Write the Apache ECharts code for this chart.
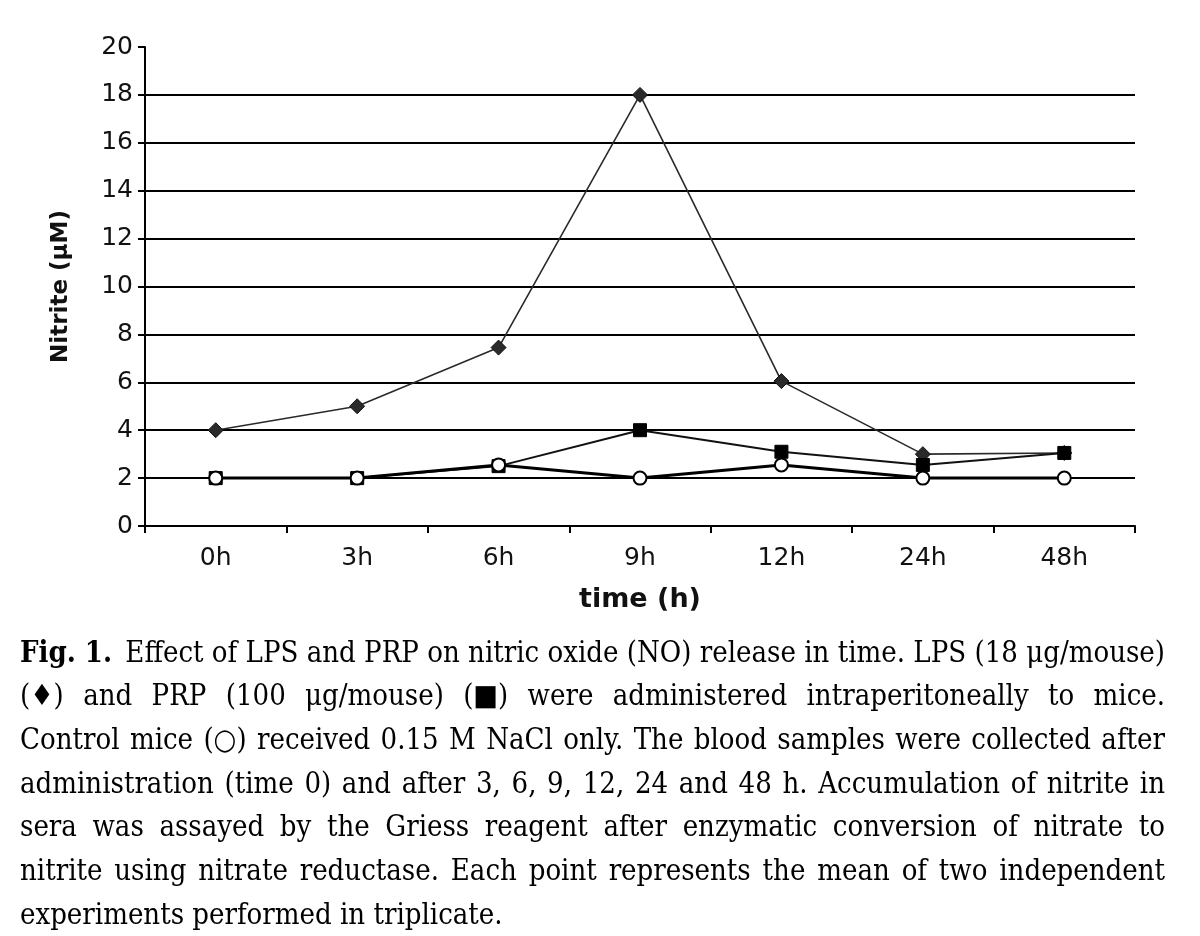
<!DOCTYPE html>
<html>
<head>
<meta charset="utf-8">
<script src="https://cdn.jsdelivr.net/npm/echarts@6/dist/echarts.min.js"></script>
<style>
html,body{margin:0;padding:0;background:#fff;}
#chart{width:1200px;height:936px;}
</style>
</head>
<body>
<div id="chart"></div>
<script>
// ---- data ----
const categories = ['0h', '3h', '6h', '9h', '12h', '24h', '48h'];
const lpsValues = [4, 5, 7.45, 18, 6.05, 3.0, 3.05];
const prpValues = [2, 2, 2.5, 4.0, 3.1, 2.55, 3.05];
const controlValues = [2, 2, 2.55, 2, 2.55, 2, 2];
const yTicks = [0, 2, 4, 6, 8, 10, 12, 14, 16, 18, 20];
const yAxisTitle = 'Nitrite (\u03bcM)';
const xAxisTitle = 'time (h)';
const captionBold = 'Fig. 1.';
const captionLines = [
  'Effect of LPS and PRP on nitric oxide (NO) release in time. LPS (18 \u03bcg/mouse)',
  '(\u2666) and PRP (100 \u03bcg/mouse) (\u25a0) were administered intraperitoneally to mice.',
  'Control mice (\u25cb) received 0.15 M NaCl only. The blood samples were collected after',
  'administration (time 0) and after 3, 6, 9, 12, 24 and 48 h. Accumulation of nitrite in',
  'sera was assayed by the Griess reagent after enzymatic conversion of nitrate to',
  'nitrite using nitrate reductase. Each point represents the mean of two independent',
  'experiments performed in triplicate.'
];

const chart = echarts.init(document.getElementById('chart'));
const axisFont = '"DejaVu Sans", "Liberation Sans", Arial, sans-serif';
const serif = '"DejaVu Serif Condensed", "DejaVu Serif", "Liberation Serif", serif';

// grid line colours: hide the line at the top (20) tick
const gridColors = yTicks.map((v, i) => i === yTicks.length - 1 ? 'rgba(0,0,0,0)' : '#000');

// ---- caption layout (justified text) ----
const capLeft = 20, capRight = 1165, capTop = 654, capPitch = 43.7;
const measureCtx = document.createElement('canvas').getContext('2d');
function measure(t, size, weight) {
  measureCtx.font = (weight || 'normal') + ' ' + size + 'px ' + serif;
  return measureCtx.measureText(t).width;
}
let capSize = 30;
(function fit() {
  const spaceW = measure(' ', 30);
  let maxW = 0;
  captionLines.forEach((ln, i) => {
    let w = measure(ln, 30);
    if (i === 0) w += measure(captionBold, 30, 'bold') + spaceW * 1.6;
    maxW = Math.max(maxW, w);
  });
  capSize = Math.min(31, 30 * (capRight - capLeft) / maxW);
})();
const graphics = [];
captionLines.forEach((ln, i) => {
  const y = capTop + i * capPitch;
  const words = ln.split(' ');
  let startX = capLeft;
  let avail = capRight - capLeft;
  if (i === 0) {
    const bw = measure(captionBold, capSize, 'bold');
    graphics.push({type: 'text', x: capLeft, y: y, style: {text: captionBold, font: 'bold ' + capSize + 'px ' + serif, fill: '#000', verticalAlign: 'middle'}});
    startX = capLeft + bw + measure(' ', capSize) * 1.6;
    avail = capRight - startX;
  }
  const ws = words.map(w => measure(w, capSize));
  const total = ws.reduce((a, b) => a + b, 0);
  const last = i === captionLines.length - 1;
  const gap = last ? measure(' ', capSize) : (avail - total) / (words.length - 1);
  let x = startX;
  words.forEach((w, k) => {
    graphics.push({type: 'text', x: x, y: y, style: {text: w, font: capSize + 'px ' + serif, fill: '#000', verticalAlign: 'middle'}});
    x += ws[k] + gap;
  });
});

const option = {
  backgroundColor: '#fff',
  animation: false,
  grid: {left: 145, right: 65, top: 47, bottom: 410, containLabel: false},
  xAxis: {
    type: 'category',
    data: categories,
    boundaryGap: true,
    axisLine: {show: true, lineStyle: {color: '#000', width: 2}},
    axisTick: {show: true, inside: false, length: 7, alignWithLabel: false, lineStyle: {color: '#000', width: 2}},
    axisLabel: {color: '#111', fontSize: 25, fontFamily: axisFont, margin: 20},
    name: xAxisTitle,
    nameLocation: 'middle',
    nameGap: 60,
    nameTextStyle: {color: '#111', fontSize: 27, fontWeight: 'bold', fontFamily: axisFont},
    splitLine: {show: false}
  },
  yAxis: {
    type: 'value',
    min: 0, max: 20, interval: 2,
    axisLine: {show: true, lineStyle: {color: '#000', width: 2}},
    axisTick: {show: true, inside: false, length: 7, lineStyle: {color: '#000', width: 2}},
    axisLabel: {color: '#111', fontSize: 25, fontFamily: axisFont, margin: 12},
    name: yAxisTitle,
    nameLocation: 'middle',
    nameGap: 72,
    nameRotate: 90,
    nameTextStyle: {color: '#111', fontSize: 23, fontWeight: 'bold', fontFamily: axisFont},
    splitLine: {show: true, lineStyle: {color: gridColors, width: 2}}
  },
  series: [
    {
      name: 'LPS', type: 'line', data: lpsValues,
      symbol: 'diamond', symbolSize: 15,
      lineStyle: {color: '#2a2a2a', width: 1.6},
      itemStyle: {color: '#2a2a2a', borderColor: '#111', borderWidth: 1},
      z: 3
    },
    {
      name: 'PRP', type: 'line', data: prpValues,
      symbol: 'rect', symbolSize: 13,
      lineStyle: {color: '#111', width: 2},
      itemStyle: {color: '#000', borderColor: '#000', borderWidth: 1},
      z: 4
    },
    {
      name: 'Control', type: 'line', data: controlValues,
      symbol: 'circle', symbolSize: 13,
      lineStyle: {color: '#000', width: 3},
      itemStyle: {color: '#fff', borderColor: '#000', borderWidth: 2},
      z: 5
    }
  ],
  graphic: graphics
};
chart.setOption(option);
</script>
</body>
</html>
